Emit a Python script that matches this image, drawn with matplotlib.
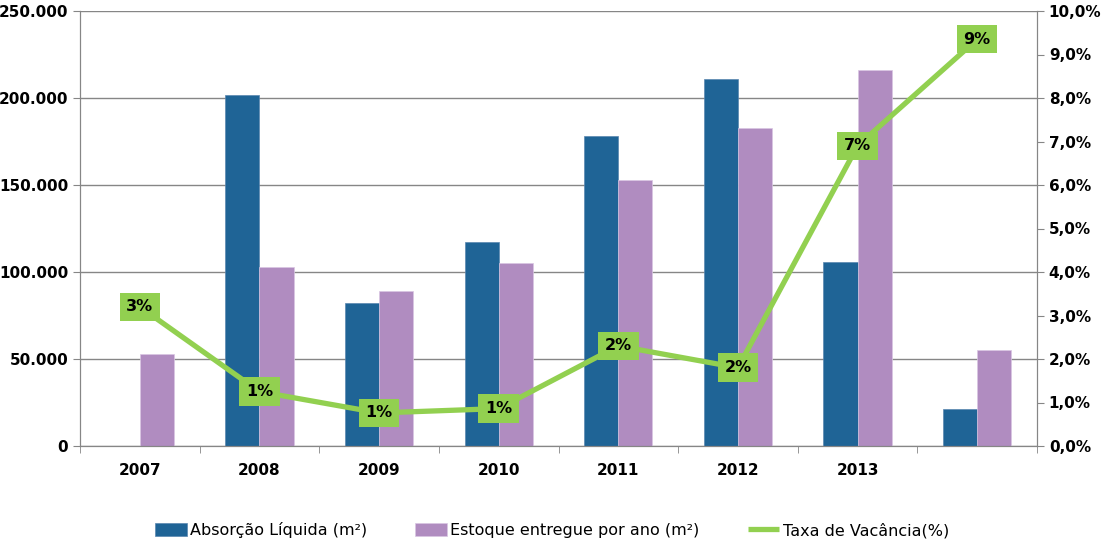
import numpy as np
import matplotlib.pyplot as plt
from matplotlib.ticker import FuncFormatter

# data
anos = ["2007", "2008", "2009", "2010", "2011", "2012", "2013", ""]
absorcao = [0, 202000, 82000, 117000, 178000, 211000, 106000, 21000]
estoque = [53000, 103000, 89000, 105000, 153000, 183000, 216000, 55000]
vacancia = [3.2, 1.25, 0.76, 0.86, 2.3, 1.8, 6.9, 9.35]
rotulos = ["3%", "1%", "1%", "1%", "2%", "2%", "7%", "9%"]

cor_abs = "#1F6496"
cor_est = "#B08CC0"
cor_vac = "#92D050"
cinza = "#868686"

plt.rcParams['font.family'] = ['DejaVu Sans']

fig = plt.figure(figsize=(11.04, 5.46), dpi=100)
ax = fig.add_axes([80 / 1104, 100 / 546, 957 / 1104, 435 / 546])
ax2 = ax.twinx()

x = np.arange(len(anos))
w = 0.285
ax.bar(x - w / 2, absorcao, w, color=cor_abs, edgecolor="#5A86B0", linewidth=0.5,
       label="Absorção Líquida (m²)", zorder=2)
ax.bar(x + w / 2, estoque, w, color=cor_est, edgecolor="#D9C6E2", linewidth=0.5,
       label="Estoque entregue por ano (m²)", zorder=2)

ax2.plot(x, vacancia, color=cor_vac, linewidth=3.8, solid_capstyle="butt",
         label="Taxa de Vacância(%)", zorder=3)
for xi, yi, t in zip(x, vacancia, rotulos):
    ax2.text(xi, yi, t, ha="center", va="center", fontsize=11.5, fontweight="bold",
             bbox=dict(boxstyle="square,pad=0.42", fc=cor_vac, ec="none"), zorder=4)

ax.set_xlim(-0.5, len(anos) - 0.5)
ax.set_ylim(0, 250000)
ax2.set_ylim(0, 10)
ax.set_yticks(np.arange(0, 250001, 50000))
ax2.set_yticks(np.arange(0, 10.01, 1))
ax.yaxis.set_major_formatter(FuncFormatter(lambda v, p: "0" if v == 0 else f"{int(v):,}".replace(",", ".")))
ax2.yaxis.set_major_formatter(FuncFormatter(lambda v, p: f"{v:.1f}%".replace(".", ",")))

ax.set_xticks(x)
ax.set_xticklabels(anos)
ax.set_xticks(np.arange(-0.5, len(anos), 1), minor=True)
ax.tick_params(axis="x", which="major", length=0, pad=12)
ax.tick_params(axis="x", which="minor", length=5, color=cinza)
ax.tick_params(axis="y", length=5, color=cinza)
ax2.tick_params(axis="y", length=5, color=cinza)

ax.grid(axis="y", color=cinza, linewidth=1, zorder=0)
ax.set_axisbelow(True)

for a in (ax, ax2):
    a.spines["top"].set_visible(False)
    for s in ("left", "right", "bottom"):
        a.spines[s].set_color(cinza)
    for lab in a.get_yticklabels() + a.get_xticklabels():
        lab.set_fontweight("bold")
        lab.set_fontsize(11)

h1, l1 = ax.get_legend_handles_labels()
h2, l2 = ax2.get_legend_handles_labels()
fig.legend(h1 + h2, l1 + l2, loc="center", bbox_to_anchor=(0.5, 16 / 546), ncol=3,
           frameon=False, fontsize=11.5, handlelength=2.0, handleheight=0.9,
           handletextpad=0.2, columnspacing=3.0)

fig.savefig("out.png", dpi=100)
